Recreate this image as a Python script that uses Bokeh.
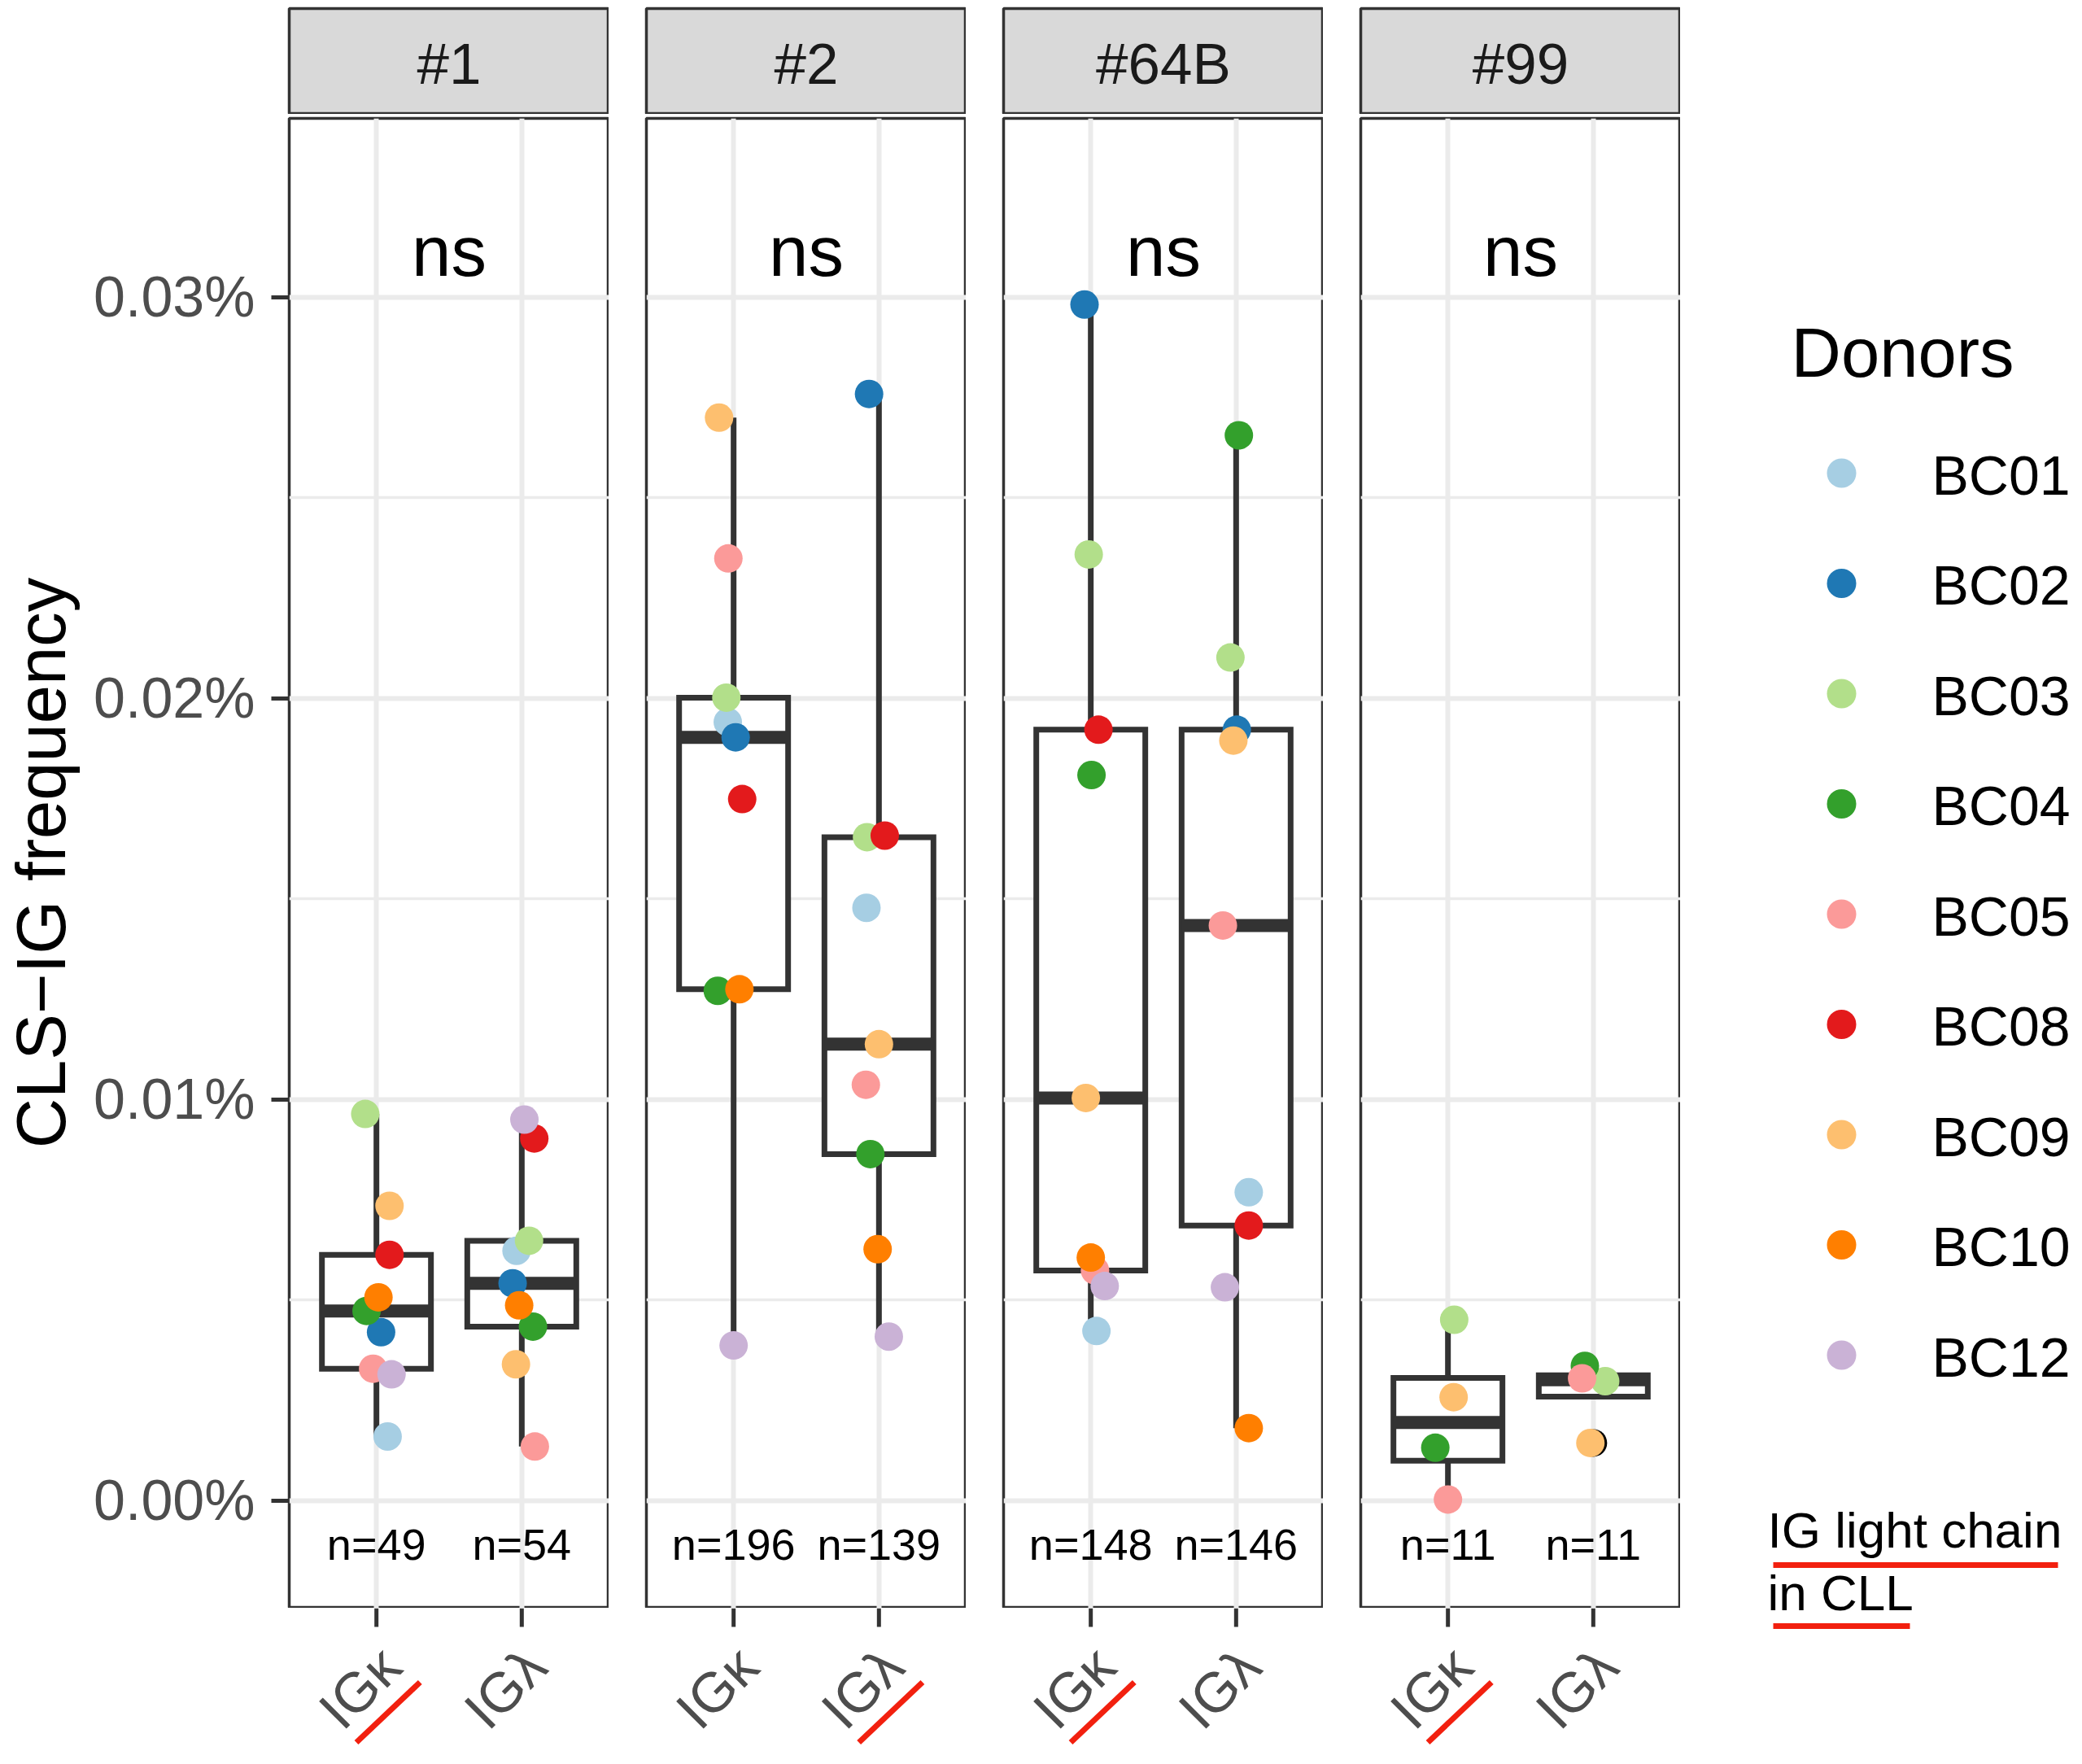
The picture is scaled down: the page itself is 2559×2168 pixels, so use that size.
import math
import numpy as np
from bokeh.plotting import figure
from bokeh.layouts import row, column
from bokeh.models import Range1d, FixedTicker, PrintfTickFormatter
from bokeh.core.properties import value
from bokeh.embed import file_html
from bokeh.resources import INLINE

FONT = "Liberation Sans"
NAN = float("nan")

# ---------------- data ----------------
DONORS = ["BC01", "BC02", "BC03", "BC04", "BC05", "BC08", "BC09", "BC10", "BC12"]
DONOR_COLORS = ["#A6CEE3", "#1F78B4", "#B2DF8A", "#33A02C", "#FB9A99",
                "#E31A1C", "#FDBF6F", "#FF7F00", "#CAB2D6"]
PATIENTS = ["#1", "#2", "#64B", "#99"]
CHAINS = ["IGκ", "IGλ"]
N_LABELS = [["n=49", "n=54"], ["n=196", "n=139"], ["n=148", "n=146"], ["n=11", "n=11"]]
SIGNIF = ["ns", "ns", "ns", "ns"]
CLL_CHAIN = ["IGκ", "IGλ", "IGκ", "IGκ"]   # IG light chain in CLL (underlined)

# CLS-IG frequency in % (donor order as DONORS)
P1_K = [0.00160, 0.00420, 0.00964, 0.00473, 0.00329, 0.00613, 0.00735, 0.00507, 0.00315]
P1_L = [0.00623, 0.00542, 0.00648, 0.00434, 0.00135, 0.00903, 0.00340, 0.00487, 0.00950]
P2_K = [0.01941, 0.01903, 0.02002, 0.01271, 0.02349, 0.01749, 0.02700, 0.01275, 0.00387]
P2_L = [0.01478, 0.02759, 0.01654, 0.00864, 0.01037, 0.01658, 0.01138, 0.00627, 0.00409]
P3_K = [0.00423, 0.02982, 0.02359, 0.01809, 0.00574, 0.01922, 0.01004, 0.00606, 0.00535]
P3_L = [0.00769, 0.01922, 0.02102, 0.02656, 0.01434, 0.00686, 0.01895, 0.00181, 0.00532]
P4_K = [NAN, NAN, 0.00451, 0.00132, 0.00003, NAN, 0.00258, NAN, NAN]
P4_L = [NAN, NAN, 0.00298, 0.00336, 0.00305, NAN, 0.00144, NAN, NAN]

# horizontal jitter (category units)
J1_K = [0.077, 0.032, -0.077, -0.068, -0.023, 0.090, 0.090, 0.014, 0.104]
J1_L = [-0.036, -0.063, 0.050, 0.077, 0.090, 0.086, -0.040, -0.018, 0.018]
J2_K = [-0.040, 0.014, -0.050, -0.109, -0.036, 0.059, -0.100, 0.040, 0.000]
J2_L = [-0.086, -0.068, -0.082, -0.059, -0.090, 0.040, 0.000, -0.009, 0.068]
J3_K = [0.039, -0.043, -0.014, 0.005, 0.029, 0.053, -0.034, 0.000, 0.096]
J3_L = [0.087, 0.005, -0.039, 0.019, -0.091, 0.087, -0.019, 0.087, -0.077]
J4_K = [0.0, 0.0, 0.043, -0.087, 0.000, 0.0, 0.039, 0.0, 0.0]
J4_L = [0.0, 0.0, 0.082, -0.058, -0.077, 0.0, -0.020, 0.0, 0.0]

FREQ = [[P1_K, P1_L], [P2_K, P2_L], [P3_K, P3_L], [P4_K, P4_L]]
JITTER = [[J1_K, J1_L], [J2_K, J2_L], [J3_K, J3_L], [J4_K, J4_L]]

Y_TICKS = [0.0, 0.01, 0.02, 0.03]
Y_MINOR = [0.005, 0.015, 0.025]
Y_LABEL = "CLS−IG frequency"
LEGEND_TITLE = "Donors"
NOTE_LINES = ["IG light chain", "in CLL"]

# ---------------- style / layout ----------------
Y_MIN, Y_MAX = -0.00268, 0.03446
X_MIN, X_MAX = 0.4, 2.6
BOX_HALF = 0.375
NS_Y = 0.03116          # vertical middle of the "ns" label (data units)
N_Y = -0.00108          # vertical middle of the "n=" labels (data units)

DARK = "#333333"
GRID = "#EBEBEB"
RED = "#F2200F"

TOTAL_H = 2166
TITLE_W = 110
FRAME_W = 393
GAP = 46
LEFT0 = 245
STRIP_H = 140
PANEL_H = 1836
LABEL_TOP, LABEL_BOTTOM = 1976, 2166     # page pixels of the tick / tick-label band
TICK_LEN = 23
TICKLAB_DX = 0.10                         # label anchor offset (category units)
TICKLAB_Y = 2036
UL_DX = (-0.138, 0.300)
UL_Y = (2141, 2067)


def box_stats(vals):
    v = np.array([x for x in vals if not math.isnan(x)])
    q1, med, q3 = np.percentile(v, [25, 50, 75])
    iqr = q3 - q1
    lo = v[v >= q1 - 1.5 * iqr].min()
    hi = v[v <= q3 + 1.5 * iqr].max()
    out = v[(v < lo) | (v > hi)]
    return q1, med, q3, lo, hi, out


def blank(fig):
    fig.xgrid.visible = False
    fig.ygrid.visible = False
    fig.background_fill_color = "white"
    fig.border_fill_color = "white"
    fig.outline_line_color = None


# ---- y-axis title column ----
tt = figure(width=TITLE_W, height=TOTAL_H, x_range=Range1d(0, TITLE_W),
            y_range=Range1d(TOTAL_H, 0), x_axis_location=None, y_axis_location=None,
            toolbar_location=None, output_backend="svg", min_border=0)
blank(tt)
tt.text(x=[50], y=[1060], text=[Y_LABEL], angle=math.pi / 2, text_font=value(FONT),
        text_font_size="85px", text_color="black", text_align="center",
        text_baseline="middle")

cols = []
for i, pat in enumerate(PATIENTS):
    left = LEFT0 if i == 0 else GAP
    w = left + FRAME_W
    xr = Range1d(X_MIN, X_MAX)

    # ---- facet strip ----
    s = figure(width=w, height=STRIP_H, x_range=Range1d(0, 1), y_range=Range1d(0, 1),
               x_axis_location=None, y_axis_location=None, toolbar_location=None,
               output_backend="svg", min_border_left=left, min_border_right=0,
               min_border_top=10, min_border_bottom=0)
    blank(s)
    s.background_fill_color = "#D9D9D9"
    s.outline_line_color = DARK
    s.outline_line_width = 3.5
    s.text(x=[0.5], y=[0.5], text=[pat], text_font=value(FONT), text_font_size="71px",
           text_color="#1A1A1A", text_align="center", text_baseline="middle", y_offset=3)

    # ---- panel ----
    p = figure(width=w, height=PANEL_H, x_range=xr,
               y_range=Range1d(Y_MIN, Y_MAX), toolbar_location=None,
               output_backend="svg", x_axis_location=None,
               y_axis_location="left" if i == 0 else None,
               min_border_left=left, min_border_right=0, min_border_top=5,
               min_border_bottom=0)
    p.background_fill_color = "white"
    p.border_fill_color = "white"
    p.outline_line_color = DARK
    p.outline_line_width = 3.5

    yt = FixedTicker(ticks=Y_TICKS, minor_ticks=Y_MINOR)
    p.ygrid.ticker = yt
    p.ygrid.grid_line_color = GRID
    p.ygrid.grid_line_width = 6
    p.ygrid.minor_grid_line_color = GRID
    p.ygrid.minor_grid_line_width = 3.5
    p.xgrid.ticker = FixedTicker(ticks=[1, 2])
    p.xgrid.grid_line_color = GRID
    p.xgrid.grid_line_width = 6

    if i == 0:
        ya = p.yaxis[0]
        ya.ticker = yt
        ya.formatter = PrintfTickFormatter(format="%.2f%%")
        ya.axis_line_color = None
        ya.major_tick_in = 0
        ya.major_tick_out = 22
        ya.major_tick_line_width = 5
        ya.major_tick_line_color = DARK
        ya.minor_tick_line_color = None
        ya.major_label_text_font = FONT
        ya.major_label_text_font_size = "70px"
        ya.major_label_text_color = "#4D4D4D"
        ya.major_label_standoff = 20

    # boxplot statistics from the data
    wx0, wy0, wx1, wy1 = [], [], [], []
    bl, br, bb, btp, mx0, mx1, my = [], [], [], [], [], [], []
    ox, oy = [], []
    px, py, pc = [], [], []
    for g in range(2):
        c = g + 1
        vals = FREQ[i][g]
        q1, med, q3, lo, hi, out = box_stats(vals)
        wx0 += [c, c]; wy0 += [q3, q1]; wx1 += [c, c]; wy1 += [hi, lo]
        bl.append(c - BOX_HALF); br.append(c + BOX_HALF); bb.append(q1); btp.append(q3)
        mx0.append(c - BOX_HALF); mx1.append(c + BOX_HALF); my.append(med)
        for o in out:
            ox.append(c); oy.append(o)
        for d, v in enumerate(vals):
            if not math.isnan(v):
                px.append(c + JITTER[i][g][d]); py.append(v); pc.append(DONOR_COLORS[d])

    p.segment(x0=wx0, y0=wy0, x1=wx1, y1=wy1, line_color=DARK, line_width=7)
    p.quad(left=bl, right=br, bottom=bb, top=btp, fill_color="white",
           line_color=DARK, line_width=7, line_join="miter")
    p.segment(x0=mx0, y0=my, x1=mx1, y1=my, line_color=DARK, line_width=16)
    if ox:
        p.scatter(x=ox, y=oy, size=34, fill_color="black", line_color=None)
    p.scatter(x=px, y=py, size=35, fill_color=pc, line_color=None)

    p.text(x=[1.5], y=[NS_Y], text=[SIGNIF[i]], text_font=value(FONT),
           text_font_size="87px", text_color="black", text_align="center",
           text_baseline="middle")
    p.text(x=[1, 2], y=[N_Y, N_Y], text=N_LABELS[i], text_font=value(FONT),
           text_font_size="54px", text_color="black", text_align="center",
           text_baseline="middle")

    # ---- ticks + rotated tick labels (shared x scale with the panel) ----
    lab = figure(width=w, height=LABEL_BOTTOM - LABEL_TOP, x_range=xr,
                 y_range=Range1d(LABEL_BOTTOM, LABEL_TOP),
                 x_axis_location=None, y_axis_location=None, toolbar_location=None,
                 output_backend="svg", min_border_left=left, min_border_right=0,
                 min_border_top=0, min_border_bottom=0)
    blank(lab)
    lab.segment(x0=[1, 2], y0=[LABEL_TOP, LABEL_TOP], x1=[1, 2],
                y1=[LABEL_TOP + TICK_LEN] * 2, line_color=DARK, line_width=5)
    lab.text(x=[1 + TICKLAB_DX, 2 + TICKLAB_DX], y=[TICKLAB_Y, TICKLAB_Y], text=CHAINS,
             angle=math.pi / 4, text_font=value(FONT), text_font_size="69px",
             text_color="#4D4D4D", text_align="right", text_baseline="middle")
    c = CHAINS.index(CLL_CHAIN[i]) + 1
    lab.segment(x0=[c + UL_DX[0]], y0=[UL_Y[0]], x1=[c + UL_DX[1]], y1=[UL_Y[1]],
                line_color=RED, line_width=7)

    cols.append(column(s, p, lab, spacing=0))

# ---------------- legend panel (page pixel coordinates) ----------------
LEG_X0, LEG_X1 = 2065, 2551
lg = figure(width=LEG_X1 - LEG_X0, height=TOTAL_H,
            x_range=Range1d(LEG_X0, LEG_X1), y_range=Range1d(TOTAL_H, 0),
            x_axis_location=None, y_axis_location=None, toolbar_location=None,
            output_backend="svg", min_border=0)
blank(lg)

ITEM_Y0, ITEM_DY = 581, 135.5
item_y = [ITEM_Y0 + ITEM_DY * k for k in range(len(DONORS))]
lg.text(x=[2201], y=[433], text=[LEGEND_TITLE], text_font=value(FONT),
        text_font_size="85px", text_color="black", text_baseline="middle")
lg.scatter(x=[2263] * len(DONORS), y=item_y, size=36, fill_color=DONOR_COLORS,
           line_color=None)
lg.text(x=[2374] * len(DONORS), y=[v + 2 for v in item_y], text=DONORS,
        text_font=value(FONT), text_font_size="68px", text_color="black",
        text_baseline="middle")
lg.text(x=[2172, 2172], y=[1880, 1957], text=NOTE_LINES, text_font=value(FONT),
        text_font_size="62px", text_color="black", text_baseline="middle")
lg.segment(x0=[2179, 2179], y0=[1923, 1998], x1=[2529, 2347], y1=[1923, 1998],
           line_color=RED, line_width=7)

layout = row(tt, *cols, lg, spacing=0)

open("out.html", "w").write(file_html(layout, INLINE))
